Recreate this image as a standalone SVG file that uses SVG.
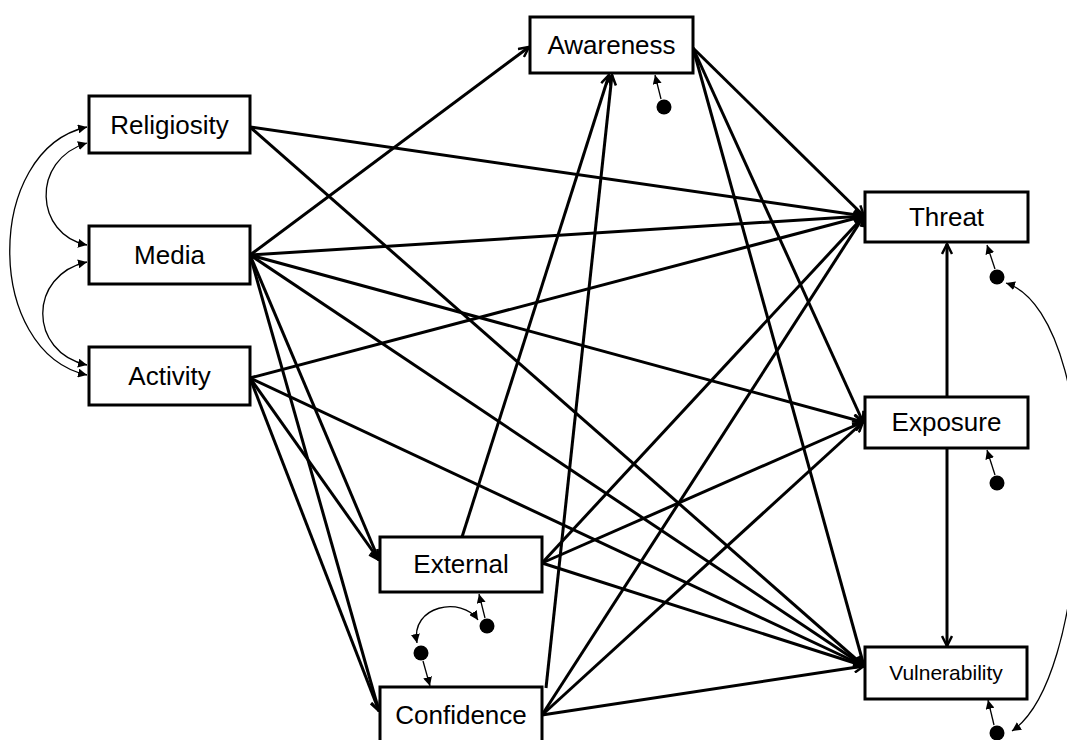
<svg xmlns="http://www.w3.org/2000/svg" width="1067" height="740" viewBox="0 0 1067 740">
<style>
.box{fill:#fff;stroke:#000;stroke-width:3}
.lbl{font-family:"Liberation Sans",Arial,sans-serif;font-size:26px;fill:#000;text-anchor:middle}
.sm{font-size:21px}
.c{stroke:#000;stroke-width:3;fill:none;marker-end:url(#a)}
.e{stroke:#000;stroke-width:1.3;fill:none;marker-end:url(#s)}
.cv{stroke:#000;stroke-width:1.3;fill:none;marker-start:url(#s);marker-end:url(#s)}
.dot{fill:#000}
</style>
<defs>
<marker id="a" viewBox="0 0 12 12" refX="11" refY="6" markerWidth="12" markerHeight="12" markerUnits="userSpaceOnUse" orient="auto"><path d="M1,1 L11,6 L1,11" fill="none" stroke="#000" stroke-width="2.5"/></marker>
<marker id="s" viewBox="0 0 10 10" refX="10" refY="5" markerWidth="9" markerHeight="9" markerUnits="userSpaceOnUse" orient="auto-start-reverse"><path d="M0,0 L10,5 L0,10 z" fill="#000"/></marker>
</defs>
<rect width="1067" height="740" fill="#fff"/>
<g id="connectors">
<path class="c" d="M250,127 L864,216"/>
<path class="c" d="M250,127 L864,666"/>
<path class="c" d="M250,255 L529,47"/>
<path class="c" d="M250,255 L864,216"/>
<path class="c" d="M250,255 L863,422"/>
<path class="c" d="M250,255 L864,666"/>
<path class="c" d="M250,255 L379,560"/>
<path class="c" d="M250,255 L379,711"/>
<path class="c" d="M250,378 L864,216"/>
<path class="c" d="M250,378 L864,666"/>
<path class="c" d="M250,378 L379,560"/>
<path class="c" d="M250,378 L379,711"/>
<path class="c" d="M462,537 L609,75"/>
<path class="c" d="M542,563 L864,216"/>
<path class="c" d="M542,563 L863,422"/>
<path class="c" d="M542,563 L864,666"/>
<path class="c" d="M546,688 L612,75"/>
<path class="c" d="M542,715 L864,216"/>
<path class="c" d="M542,715 L863,422"/>
<path class="c" d="M542,715 L864,666"/>
<path class="c" d="M693,48 L864,216"/>
<path class="c" d="M693,48 L863,422"/>
<path class="c" d="M693,48 L864,666"/>
<path class="c" d="M947,397 L947,244"/>
<path class="c" d="M947,448 L947,646"/>
<path class="cv" d="M87,143 C30,160 35,235 87,245"/>
<path class="cv" d="M87,127 C-16,150 -16,352 87,375"/>
<path class="cv" d="M87,262 C28,275 28,352 87,365"/>
<path class="e" d="M661,99 L655,75"/>
<path class="e" d="M995,269 L987,245"/>
<path class="e" d="M995,475 L987,450"/>
<path class="e" d="M994,725 L988,700"/>
<path class="e" d="M485,618 L479,594"/>
<path class="e" d="M423,661 L430,686"/>
<path class="cv" d="M417,643 C410,605 462,596 478,620"/>
<path class="cv" d="M1006,283 C1060,300 1085,420 1078,520 C1072,620 1050,705 1012,731"/>
</g>
<g id="errors">
<circle class="dot" cx="664" cy="107" r="7.5"/>
<circle class="dot" cx="997" cy="277" r="7.5"/>
<circle class="dot" cx="997" cy="483" r="7.5"/>
<circle class="dot" cx="997" cy="733" r="7.5"/>
<circle class="dot" cx="487" cy="626" r="7.5"/>
<circle class="dot" cx="421" cy="653" r="7.5"/>
</g>
<g id="religiosity"><rect class="box" x="89" y="96" width="161" height="57"/><text class="lbl" x="169.5" y="134">Religiosity</text></g>
<g id="media"><rect class="box" x="89" y="226" width="161" height="58"/><text class="lbl" x="169.5" y="264">Media</text></g>
<g id="activity"><rect class="box" x="89" y="347" width="161" height="58"/><text class="lbl" x="169.5" y="385">Activity</text></g>
<g id="awareness"><rect class="box" x="530" y="17" width="163" height="56"/><text class="lbl" x="611.5" y="54">Awareness</text></g>
<g id="threat"><rect class="box" x="865" y="192" width="163" height="50"/><text class="lbl" x="946.5" y="226">Threat</text></g>
<g id="exposure"><rect class="box" x="865" y="397" width="163" height="51"/><text class="lbl" x="946.5" y="431">Exposure</text></g>
<g id="vulnerability"><rect class="box" x="865" y="647" width="162" height="52"/><text class="lbl sm" x="946" y="680">Vulnerability</text></g>
<g id="external"><rect class="box" x="380" y="537" width="162" height="55"/><text class="lbl" x="461" y="573">External</text></g>
<g id="confidence"><rect class="box" x="380" y="687" width="162" height="58"/><text class="lbl" x="461" y="724">Confidence</text></g>
</svg>
